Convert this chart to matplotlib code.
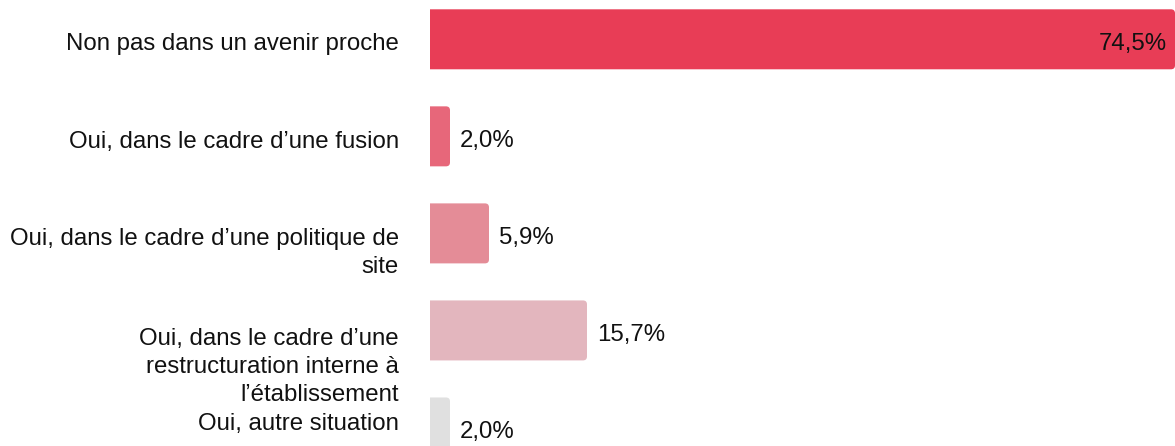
import matplotlib
matplotlib.use('Agg')
import matplotlib.pyplot as plt
from matplotlib.patches import FancyBboxPatch

# === Data ===
categories = [
    "Non pas dans un avenir proche",
    "Oui, dans le cadre d\u2019une fusion",
    "Oui, dans le cadre d\u2019une politique de\nsite",
    "Oui, dans le cadre d\u2019une\nrestructuration interne \u00e0\nl\u2019\u00e9tablissement",
    "Oui, autre situation",
]
values = [74.5, 2.0, 5.9, 15.7, 2.0]
value_labels = ["74,5%", "2,0%", "5,9%", "15,7%", "2,0%"]
colors = ['#E83D56', '#E7677A', '#E48C97', '#E3B6BE', '#E0E0E0']

# === Layout (pixels at dpi=100) ===
W, H = 1175, 446
DPI = 100
PT = 72 / DPI                      # points per pixel
FS = 24 * PT                       # font size in points
label_dy = [11, 12, 12, 14.5, 2.5]  # baseline below bar centre (px)
line_gap = 28

plt.rcParams['font.family'] = ['Liberation Sans', 'DejaVu Sans']

fig = plt.figure(figsize=(W / DPI, H / DPI), dpi=DPI)
ax = fig.add_axes([430 / W, 0, 745 / W, 1])
xmax = 74.5
ymin, ymax = -0.405, 4.191
ax.set_xlim(0, xmax)
ax.set_ylim(ymax, ymin)
ax.axis('off')

px_x = 745 / xmax                  # px per x unit
px_y = H / (ymax - ymin)           # px per y unit
aspect = px_x / px_y
bar_h = 60 / px_y
radius = 4 / px_x
pad_left = 1.0                     # start left of the axis so the left corners get clipped

for i, (v, c) in enumerate(zip(values, colors)):
    y0 = i - bar_h / 2
    ax.add_patch(FancyBboxPatch((-pad_left, y0), v + pad_left, bar_h,
                                boxstyle=f"round,pad=0,rounding_size={radius}",
                                mutation_aspect=aspect, fc=c, ec='none'))

    # value labels
    if v > 0.9 * xmax:
        ax.annotate(value_labels[i], xy=(v, i), xytext=(-8 * PT, -10.5 * PT),
                    textcoords='offset points', ha='right', va='baseline',
                    fontsize=FS, color='#111111')
    else:
        ax.annotate(value_labels[i], xy=(v, i), xytext=(10 * PT, -10.5 * PT),
                    textcoords='offset points', ha='left', va='baseline',
                    fontsize=FS, color='#111111')

    # category labels, one line at a time
    for k, line in enumerate(categories[i].split('\n')):
        ax.annotate(line, xy=(0, i),
                    xytext=(-31 * PT, -(label_dy[i] + k * line_gap) * PT),
                    textcoords='offset points', ha='right', va='baseline',
                    fontsize=FS, color='#111111', annotation_clip=False)

fig.savefig('out.png', dpi=DPI)
